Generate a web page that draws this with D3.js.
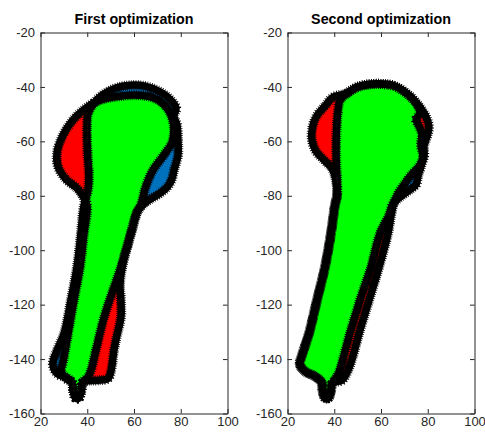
<!DOCTYPE html>
<html>
<head>
<meta charset="utf-8">
<script src="https://d3js.org/d3.v7.min.js"></script>
<style>
  body { margin: 0; background: #fff; }
  svg { font-family: "Liberation Sans", Arial, sans-serif; }
  .tick text { fill: #262626; font-size: 13px; font-family: "Liberation Sans", Arial, sans-serif; }
  .tick line, .domain { stroke: #262626; }
</style>
</head>
<body>
<svg width="485" height="436"></svg>
<script>
const xTicks = [20, 40, 60, 80, 100];
const yTicks = [-160, -140, -120, -100, -80, -60, -40, -20];
const titles = ["First optimization", "Second optimization"];

// contour A: red where outside B, contour B: blue where outside A, overlap green
const firstA = [
  [37.8,-48.9],[42.5,-46.0],[47.6,-44.3],[54.0,-43.4],[60.4,-43.0],[66.8,-43.6],[71.1,-45.2],
  [74.5,-48.2],[76.3,-51.5],[77.1,-55.2],[76.3,-60.3],[72.4,-65.5],[68.1,-70.6],[65.1,-76.5],
  [63.0,-83.2],[61.3,-86.1],[58.7,-93.8],[54.9,-106.3],[54.0,-112.9],[54.4,-118.4],[54.4,-124.7],
  [52.7,-131.3],[51.4,-136.8],[50.2,-144.2],[48.9,-147.1],[44.6,-147.8],[40.3,-148.0],[38.0,-148.6],
  [37.5,-151.5],[36.4,-154.3],[35.0,-154.3],[34.0,-151.5],[33.5,-148.6],[30.9,-147.1],[28.8,-144.2],
  [29.6,-141.2],[31.8,-130.6],[34.3,-118.4],[36.9,-106.3],[38.6,-93.8],[39.9,-83.5],[38.2,-80.2],
  [35.6,-77.2],[30.9,-73.9],[27.5,-69.2],[27.1,-64.0],[29.6,-57.8],[33.5,-52.6]
];
const firstB = [
  [40.3,-50.0],[42.5,-46.4],[46.3,-43.1],[51.9,-40.5],[58.3,-39.4],[64.7,-39.7],[71.1,-41.8],
  [75.8,-44.9],[78.0,-47.8],[77.1,-50.8],[78.4,-54.1],[78.8,-59.6],[78.8,-65.1],[77.1,-70.6],
  [76.3,-73.6],[74.5,-76.5],[71.1,-79.1],[66.8,-81.3],[63.9,-83.2],[61.3,-86.1],[58.7,-93.8],
  [54.4,-106.3],[50.6,-115.8],[47.2,-124.7],[43.7,-136.8],[41.6,-144.2],[40.3,-146.6],[38.0,-148.6],
  [37.5,-151.5],[36.4,-154.3],[35.0,-154.3],[34.0,-151.5],[33.5,-148.6],[30.9,-146.7],[27.5,-145.6],
  [25.3,-142.0],[27.1,-136.8],[30.1,-130.6],[33.0,-118.4],[35.6,-106.3],[37.3,-93.8],[38.6,-83.5],
  [40.3,-78.0],[40.7,-72.5],[40.3,-67.0],[39.9,-59.6],[39.9,-54.1]
];
const secondA = [
  [39.5,-43.8],[45.5,-42.3],[49.7,-40.1],[55.3,-39.0],[61.7,-39.0],[66.0,-39.7],[72.4,-43.4],
  [76.7,-47.5],[79.3,-51.1],[80.5,-54.8],[79.7,-58.1],[78.4,-61.8],[78.4,-65.5],[76.3,-69.2],
  [72.8,-72.5],[70.3,-75.4],[67.7,-78.7],[65.6,-82.4],[64.3,-87.2],[63.0,-93.8],[59.1,-106.3],
  [54.9,-118.4],[50.6,-130.6],[47.6,-140.1],[45.5,-144.9],[43.3,-147.8],[39.2,-148.8],[38.6,-151.5],
  [37.5,-154.3],[36.1,-154.3],[35.0,-151.5],[34.6,-148.6],[31.8,-146.4],[27.5,-144.5],[25.3,-142.0],
  [26.2,-138.6],[29.2,-130.6],[32.6,-118.4],[36.0,-106.3],[38.6,-93.8],[40.3,-83.5],[41.2,-79.8],
  [40.7,-74.3],[39.0,-69.9],[35.8,-67.0],[32.2,-63.6],[30.5,-59.6],[30.6,-55.2],[32.4,-50.8],[36.0,-47.1]
];
const secondB = [
  [42.5,-44.9],[45.5,-42.3],[49.7,-40.1],[55.3,-39.0],[61.7,-39.0],[66.0,-39.7],[72.4,-43.4],
  [75.8,-47.1],[76.7,-49.7],[75.0,-51.9],[76.3,-54.4],[77.5,-57.4],[77.1,-61.4],[78.0,-65.5],
  [77.1,-69.2],[75.8,-72.8],[75.0,-75.8],[72.0,-78.0],[68.1,-80.5],[65.1,-83.1],[63.4,-87.2],
  [59.6,-93.8],[55.7,-106.3],[51.0,-118.4],[46.7,-130.6],[43.7,-140.1],[42.0,-144.9],[40.2,-147.6],
  [39.2,-148.8],[38.6,-151.5],[37.5,-154.3],[36.1,-154.3],[35.0,-151.5],[34.6,-148.6],[31.8,-146.4],
  [27.5,-144.5],[25.3,-142.0],[26.2,-138.6],[29.2,-130.6],[32.6,-118.4],[36.0,-106.3],[38.6,-93.8],
  [40.3,-83.5],[41.2,-79.8],[41.2,-73.6],[40.9,-68.8],[40.8,-64.0],[40.8,-59.6],[41.1,-54.1],[41.5,-49.3]
];

const svg = d3.select("svg");
const panels = [
  { title: titles[0], a: firstA, b: firstB, left: 40.5 },
  { title: titles[1], a: secondA, b: secondB, left: 287.5 }
];
const w = 187, plotTop = 32.5, plotBottom = 413.5, tick = 4.5;

panels.forEach((p, i) => {
  const x = d3.scaleLinear().domain([20, 100]).range([p.left, p.left + w]);
  const y = d3.scaleLinear().domain([-160, -20]).range([plotBottom, plotTop]);
  const line = d3.line()
    .x(d => x(d[0]))
    .y(d => y(d[1]))
    .curve(d3.curveCatmullRomClosed.alpha(0.5));

  const g = svg.append("g");
  g.append("clipPath").attr("id", "clipB" + i)
    .append("path").attr("d", line(p.b));

  g.append("path").attr("d", line(p.a)).attr("fill", "#ff0000");
  g.append("path").attr("d", line(p.b)).attr("fill", "#0072bd");
  g.append("path").attr("d", line(p.a)).attr("fill", "#00ff00")
    .attr("clip-path", `url(#clipB${i})`);

  // asterisk-marker outlines: solid core plus a ragged fringe
  [p.a, p.b].forEach(c => {
    g.append("path").attr("d", line(c))
      .attr("fill", "none").attr("stroke", "#000")
      .attr("stroke-width", 7.5).attr("stroke-linejoin", "round");
    g.append("path").attr("d", line(c))
      .attr("fill", "none").attr("stroke", "#000")
      .attr("stroke-width", 10).attr("stroke-dasharray", "0.8 1.4");
  });

  // axes, ticks inward, box on
  g.append("g")
    .attr("transform", `translate(0,${plotBottom})`)
    .call(d3.axisBottom(x).tickValues(xTicks).tickSize(-tick).tickSizeOuter(0)
      .tickPadding(3).tickFormat(d => String(d)));
  g.append("g")
    .attr("transform", `translate(0,${plotTop})`)
    .call(d3.axisTop(x).tickValues(xTicks).tickSize(-tick).tickSizeOuter(0).tickFormat(""));
  g.append("g")
    .attr("transform", `translate(${p.left},0)`)
    .call(d3.axisLeft(y).tickValues(yTicks).tickSize(-tick).tickSizeOuter(0)
      .tickPadding(5.5).tickFormat(d => String(d)));
  g.append("g")
    .attr("transform", `translate(${p.left + w},0)`)
    .call(d3.axisRight(y).tickValues(yTicks).tickSize(-tick).tickSizeOuter(0).tickFormat(""));

  g.append("text")
    .attr("x", p.left + w / 2)
    .attr("y", 24)
    .attr("text-anchor", "middle")
    .attr("font-weight", "bold")
    .attr("font-size", 14.3)
    .text(p.title);
});
</script>
</body>
</html>
